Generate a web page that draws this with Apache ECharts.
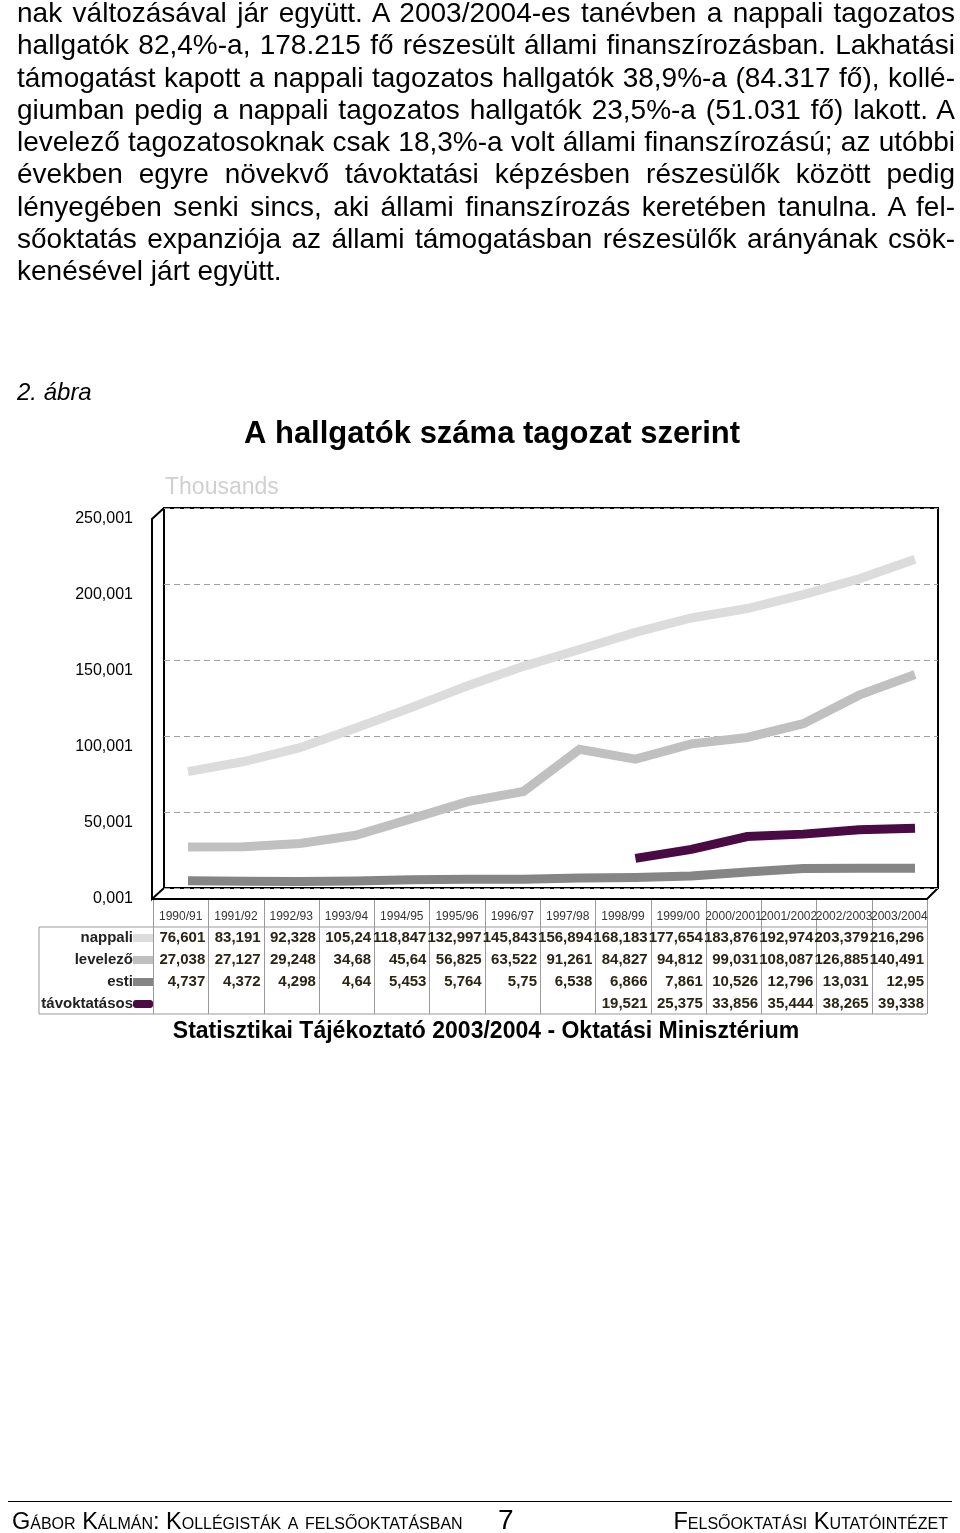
<!DOCTYPE html>
<html>
<head>
<meta charset="utf-8">
<script src="https://cdn.jsdelivr.net/npm/echarts@6/dist/echarts.min.js"></script>
<style>
  html, body { margin:0; padding:0; background:#fff; }
  body { width:960px; height:1533px; position:relative; overflow:hidden; font-family:"Liberation Sans", Arial, sans-serif; }
  #chart { position:absolute; left:0; top:0; width:960px; height:1533px; }
  #body { position:absolute; left:17px; top:-3px; width:938px; font-size:28px; line-height:32.25px; color:#000; }
  #body div { text-align:justify; text-align-last:justify; white-space:nowrap; }
  #body div.last { text-align-last:left; }
  .foot { position:absolute; color:#000; font-family:"Liberation Sans", Arial, sans-serif; white-space:nowrap; }
</style>
</head>
<body>
<div id="chart"></div>
<div id="body">
  <div>nak változásával jár együtt. A 2003/2004-es tanévben a nappali tagozatos</div>
  <div>hallgatók 82,4%-a, 178.215 fő részesült állami finanszírozásban. Lakhatási</div>
  <div>támogatást kapott a nappali tagozatos hallgatók 38,9%-a (84.317 fő), kollé-</div>
  <div>giumban pedig a nappali tagozatos hallgatók 23,5%-a (51.031 fő) lakott. A</div>
  <div>levelező tagozatosoknak csak 18,3%-a volt állami finanszírozású; az utóbbi</div>
  <div>években egyre növekvő távoktatási képzésben részesülők között pedig</div>
  <div>lényegében senki sincs, aki állami finanszírozás keretében tanulna. A fel-</div>
  <div>sőoktatás expanziója az állami támogatásban részesülők arányának csök-</div>
  <div class="last">kenésével járt együtt.</div>
</div>
<div class="foot" style="left:8px; top:1501px; width:944px; height:0; border-top:1px solid #000;"></div>
<div class="foot" style="left:12px; top:1508px; font-size:23.5px; font-variant:small-caps;">Gábor Kálmán: Kollégisták a felsőoktatásban</div>
<div class="foot" style="left:498px; top:1504px; font-size:28px;">7</div>
<div class="foot" style="right:12px; top:1508px; font-size:23.5px; font-variant:small-caps;">Felsőoktatási Kutatóintézet</div>
<script>
// ---- data (thousands) ----
const categories = ['1990/91','1991/92','1992/93','1993/94','1994/95','1995/96','1996/97','1997/98','1998/99','1999/00','2000/2001','2001/2002','2002/2003','2003/2004'];
const nappali  = [76.601, 83.191, 92.328, 105.24, 118.847, 132.997, 145.843, 156.894, 168.183, 177.654, 183.876, 192.974, 203.379, 216.296];
const levelezo = [27.038, 27.127, 29.248, 34.68, 45.64, 56.825, 63.522, 91.261, 84.827, 94.812, 99.031, 108.087, 126.885, 140.491];
const esti     = [4.737, 4.372, 4.298, 4.64, 5.453, 5.764, 5.75, 6.538, 6.866, 7.861, 10.526, 12.796, 13.031, 12.95];
const tavokt   = [null, null, null, null, null, null, null, null, 19.521, 25.375, 33.856, 35.444, 38.265, 39.338];
const seriesNames = ['nappali', 'levelező', 'esti', 'távoktatásos'];
const yTickLabels = ['0,001', '50,001', '100,001', '150,001', '200,001', '250,001'];

// ---- layout ----
const colors = ['#dcdcdc', '#c0c0c0', '#858585', '#4a0a44'];
const backL = 164, backT = 508, backW = 774, backH = 380;
const frontL = 153, frontT = 519, frontW = 774, frontH = 380;
const serL = 160, serW = 783;
const rowY = [938, 960, 982, 1004];
const tableTop = 927, tableBot = 1014, tableLeft = 39;
const colW = frontW / categories.length;

const chart = echarts.init(document.getElementById('chart'), null, {renderer: 'canvas'});
const allSeries = [nappali, levelezo, esti, tavokt];

const fmt = v => (v == null ? '' : String(v).replace('.', ','));

const graphics = [];
// texts
graphics.push({type:'text', left:17, top:381, style:{text:'2. ábra', font:'italic 24px "Liberation Sans", Arial', fill:'#000'}});
graphics.push({type:'text', x:492, y:434, style:{text:'A hallgatók száma tagozat szerint', font:'bold 31px "Liberation Sans", Arial', fill:'#000', align:'center', verticalAlign:'middle'}});
graphics.push({type:'text', x:165, y:488, style:{text:'Thousands', font:'23px "Liberation Sans", Arial', fill:'#d0d0d0', align:'left', verticalAlign:'middle'}});
graphics.push({type:'text', x:486, y:1032, style:{text:'Statisztikai Tájékoztató 2003/2004 - Oktatási Minisztérium', font:'bold 23px "Liberation Sans", Arial', fill:'#000', align:'center', verticalAlign:'middle'}});

// 3D box: left wall and floor front edges
const boxStroke = {stroke:'#000', lineWidth:2, fill:null};
graphics.push({type:'polyline', shape:{points:[[backL, backT],[frontL-1, frontT],[frontL-1, frontT+frontH],[backL, backT+backH]]}, style:boxStroke});
graphics.push({type:'polyline', shape:{points:[[frontL-1, frontT+frontH],[frontL+frontW, frontT+frontH],[backL+backW, backT+backH]]}, style:boxStroke});

// table lines
const tStroke = {stroke:'#9a9a9a', lineWidth:1};
graphics.push({type:'line', shape:{x1:tableLeft, y1:tableTop, x2:frontL+frontW, y2:tableTop}, style:tStroke});
graphics.push({type:'line', shape:{x1:tableLeft, y1:tableBot, x2:frontL+frontW, y2:tableBot}, style:tStroke});
graphics.push({type:'line', shape:{x1:tableLeft, y1:tableTop, x2:tableLeft, y2:tableBot}, style:tStroke});
for (let k = 0; k <= categories.length; k++) {
  const x = Math.round(frontL + colW * k) + 0.5;
  graphics.push({type:'line', shape:{x1:x, y1:frontT+frontH+1, x2:x, y2:tableBot}, style:tStroke});
}
// row labels + legend keys + values
seriesNames.forEach((name, r) => {
  graphics.push({type:'text', x:133, y:rowY[r], style:{text:name, font:'bold 15px "Liberation Sans", Arial', fill:'#222', align:'right', verticalAlign:'middle'}});
  graphics.push({type:'rect', shape:{x:133, y:rowY[r]-4, width:20, height:8, r: r===3 ? 3 : 0}, style:{fill:colors[r]}});
  allSeries[r].forEach((v, i) => {
    if (v == null) return;
    graphics.push({type:'text', x:frontL + colW*(i+1) - 3, y:rowY[r], style:{text:fmt(v), font:'bold 15px "Liberation Sans", Arial', fill:'#2a2415', align:'right', verticalAlign:'middle'}});
  });
});

const option = {
  animation: false,
  backgroundColor: 'transparent',
  grid: [
    {left:backL, top:backT, width:backW, height:backH, show:true, borderColor:'#000', borderWidth:2, backgroundColor:'transparent'},
    {left:serL, top:backT, width:serW, height:backH},
    {left:frontL, top:frontT, width:frontW, height:frontH}
  ],
  xAxis: [
    {gridIndex:0, type:'category', data:categories, show:false},
    {gridIndex:1, type:'category', data:categories, show:false, boundaryGap:true},
    {gridIndex:2, type:'category', data:categories, axisLine:{show:false}, axisTick:{show:false},
     axisLabel:{interval:0, margin:12, fontSize:12, color:'#333', fontFamily:'"Liberation Sans", Arial', hideOverlap:false}}
  ],
  yAxis: [
    {gridIndex:0, type:'value', min:0, max:250, interval:50, axisLine:{show:false}, axisTick:{show:false}, axisLabel:{show:false},
     splitLine:{show:true, lineStyle:{color:'#a0a0a0', type:[6,4], width:1}}},
    {gridIndex:1, type:'value', min:0, max:250, interval:50, show:false, splitLine:{show:false}},
    {gridIndex:2, type:'value', min:0, max:250, interval:50, axisLine:{show:false}, axisTick:{show:false}, splitLine:{show:false},
     axisLabel:{margin:20, fontSize:16, color:'#000', fontFamily:'"Liberation Sans", Arial', padding:[4,0,0,0], formatter:(v) => yTickLabels[Math.round(v/50)]}}
  ],
  series: allSeries.map((d, r) => ({
    name: seriesNames[r], type:'line', xAxisIndex:1, yAxisIndex:1, data:d,
    showSymbol:false, symbol:'none', connectNulls:false, silent:true,
    lineStyle:{color:colors[r], width:9, cap:'butt', join:'miter'}
  })),
  graphic: graphics
};
chart.setOption(option);
</script>
</body>
</html>
